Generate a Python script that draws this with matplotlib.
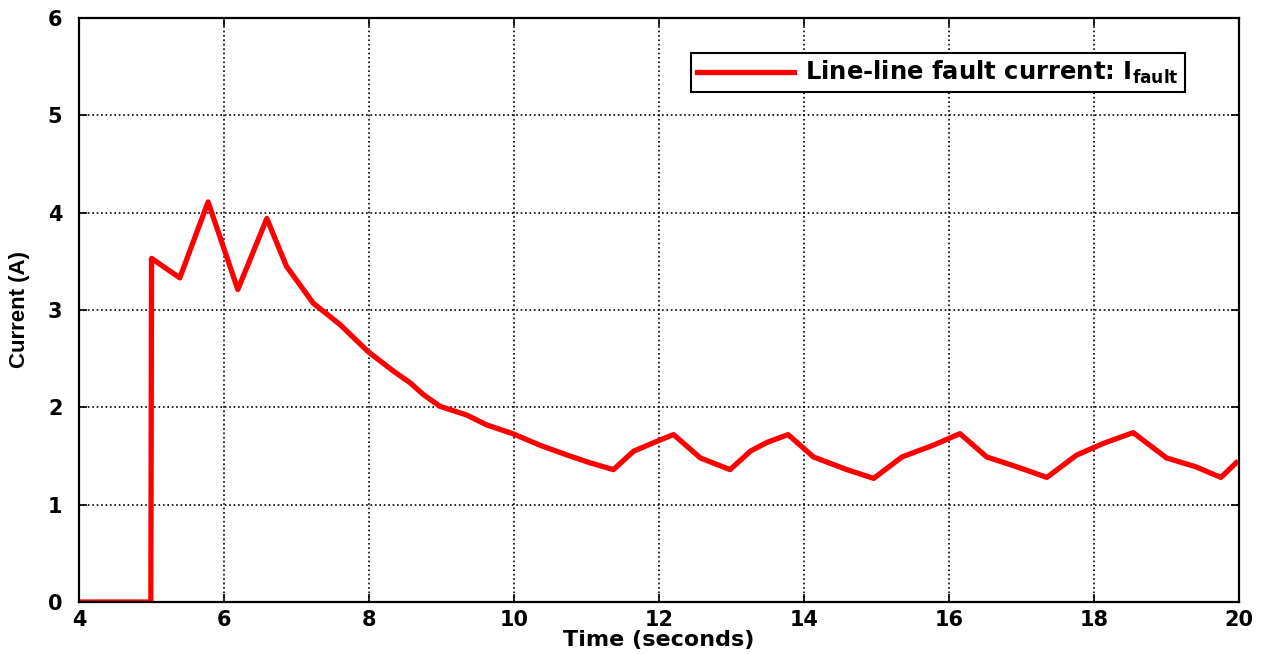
import numpy as np
import matplotlib.pyplot as plt

plt.rcParams['font.family'] = ['DejaVu Sans']
plt.rcParams['font.weight'] = 'bold'
plt.rcParams['mathtext.fontset'] = 'custom'
plt.rcParams['mathtext.rm'] = 'DejaVu Sans:bold'
plt.rcParams['mathtext.it'] = 'DejaVu Sans:bold'
plt.rcParams['mathtext.bf'] = 'DejaVu Sans:bold'

# Время (с) и ток замыкания (А)
time = [4.0, 4.99, 5.0, 5.39, 5.78, 6.19, 6.59, 6.86, 7.23, 7.60, 7.99, 8.34,
        8.57, 8.75, 8.98, 9.35, 9.62, 9.98, 10.36, 10.73, 11.05, 11.37, 11.65,
        12.0, 12.20, 12.57, 12.98, 13.26, 13.49, 13.78, 14.13, 14.59, 14.96,
        15.35, 15.78, 16.15, 16.52, 16.93, 17.35, 17.76, 18.13, 18.54, 19.0,
        19.40, 19.75, 19.96]
current = [0.0, 0.0, 3.53, 3.33, 4.11, 3.21, 3.94, 3.45, 3.07, 2.85, 2.57, 2.37,
           2.25, 2.13, 2.01, 1.92, 1.82, 1.73, 1.61, 1.51, 1.43, 1.36, 1.55,
           1.66, 1.72, 1.48, 1.36, 1.55, 1.64, 1.72, 1.49, 1.36, 1.27,
           1.49, 1.61, 1.73, 1.49, 1.39, 1.28, 1.51, 1.63, 1.74, 1.48,
           1.39, 1.28, 1.43]

x_ticks = [4, 6, 8, 10, 12, 14, 16, 18, 20]
y_ticks = [0, 1, 2, 3, 4, 5, 6]

fig = plt.figure(figsize=(12.65, 6.54), dpi=100)
ax = fig.add_axes([0.0625, 0.0795, 0.917, 0.893])

ax.plot(time, current, color='red', linewidth=3.8,
        label=r'Line-line fault current: I$_{\mathbf{fault}}$')

ax.set_xlim(4, 20)
ax.set_ylim(0, 6)
ax.set_xticks(x_ticks)
ax.set_yticks(y_ticks)
ax.grid(True, color='black', linestyle=':', linewidth=1.2)
ax.tick_params(direction='in', length=6, width=1.2, labelsize=15,
               top=True, right=True)
ax.tick_params(axis='y', pad=12)
ax.tick_params(axis='x', pad=6)
for s in ax.spines.values():
    s.set_linewidth(1.6)

ax.set_xlabel('Time (seconds)', fontsize=16, fontweight='bold', labelpad=0)
ax.set_ylabel('Current (A)', fontsize=16, family='Liberation Sans',
              fontweight='bold', labelpad=13)

leg = ax.legend(loc='upper right', bbox_to_anchor=(0.953, 0.940),
                borderaxespad=0, fontsize=17.5, fancybox=False, framealpha=1,
                edgecolor='black', handlelength=4.0, handletextpad=0.45,
                borderpad=0.25)
leg.get_frame().set_linewidth(1.5)

plt.savefig('out.png', dpi=100)
